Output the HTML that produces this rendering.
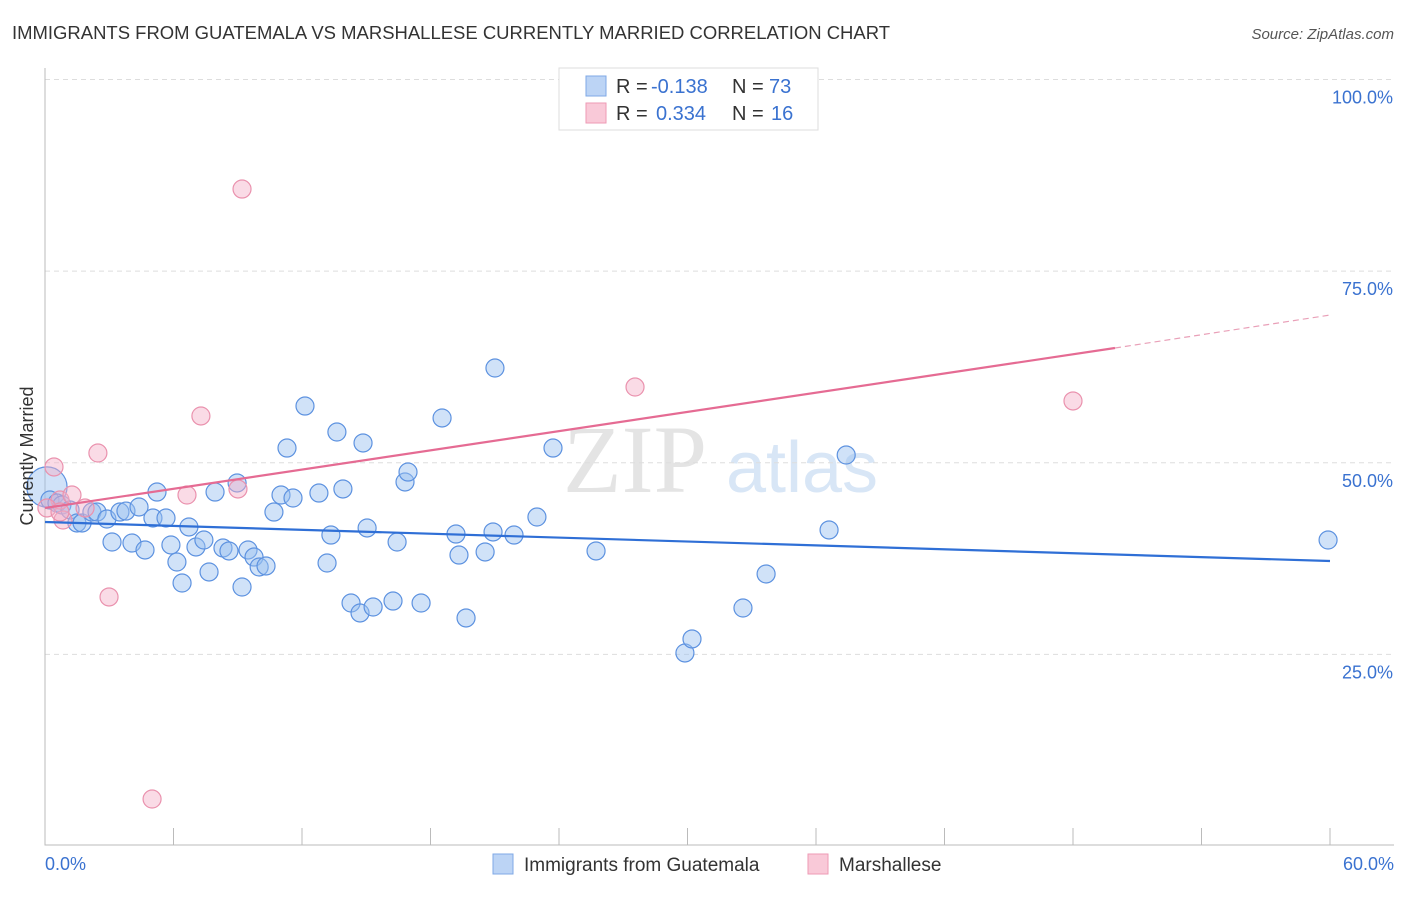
<!DOCTYPE html>
<html><head><meta charset="utf-8"><style>
body{margin:0;background:#fff;font-family:"Liberation Sans",sans-serif}
</style></head><body>
<svg width="1406" height="892" xmlns="http://www.w3.org/2000/svg" id="chart">
<text x="12" y="39" font-size="18" fill="#333" textLength="878" lengthAdjust="spacingAndGlyphs">IMMIGRANTS FROM GUATEMALA VS MARSHALLESE CURRENTLY MARRIED CORRELATION CHART</text>
<text x="1394" y="39" font-size="15" fill="#555" font-style="italic" text-anchor="end">Source: ZipAtlas.com</text>
<text x="635" y="492" font-size="96" font-family="Liberation Serif,serif" fill="#e4e4e4" text-anchor="middle">ZIP</text>
<text x="802" y="492" font-size="72" fill="#d8e6f6" text-anchor="middle">atlas</text>
<g id="grid"></g><g id="axes"></g><g id="marks"></g>
<text transform="translate(33,456) rotate(-90)" font-size="18" fill="#333" text-anchor="middle">Currently Married</text>
<g>
<rect x="559" y="68" width="259" height="62" fill="#fff" stroke="#ddd"/>
<rect x="586" y="76" width="20" height="20" fill="#bcd4f5" stroke="#7fa8e6"/>
<rect x="586" y="103" width="20" height="20" fill="#f9c9d8" stroke="#ee9ab5"/>
<text x="616" y="93" font-size="20" fill="#333">R = <tspan x="651" fill="#3a72d0">-0.138</tspan></text>
<text x="732" y="93" font-size="20" fill="#333">N = <tspan x="769" fill="#3a72d0">73</tspan></text>
<text x="616" y="120" font-size="20" fill="#333">R = <tspan x="656" fill="#3a72d0">0.334</tspan></text>
<text x="732" y="120" font-size="20" fill="#333">N = <tspan x="771" fill="#3a72d0">16</tspan></text>
</g>
<g>
<rect x="493" y="854" width="20" height="20" fill="#bcd4f5" stroke="#7fa8e6"/>
<text x="524" y="871" font-size="19" fill="#333">Immigrants from Guatemala</text>
<rect x="808" y="854" width="20" height="20" fill="#f9c9d8" stroke="#ee9ab5"/>
<text x="839" y="871" font-size="19" fill="#333">Marshallese</text>
</g>
</svg>
<script>
const yTicks=[100,75,50,25];
const yTickLabels=["100.0%","75.0%","50.0%","25.0%"];
const xTicks=[0,6,12,18,24,30,36,42,48,54,60];
const blueX=[0.09,0.23,0.56,0.79,1.17,1.49,1.73,2.19,2.43,2.89,3.13,3.50,3.78,4.06,4.39,4.67,5.04,5.23,5.65,5.88,6.16,6.40,6.72,7.05,7.42,7.66,7.94,8.31,8.59,8.97,9.20,9.48,9.76,10.00,10.32,10.69,11.02,11.30,11.58,12.14,12.79,13.17,13.35,13.63,13.91,14.29,14.71,15.04,15.32,14.85,16.25,16.44,16.81,16.95,17.56,18.54,19.19,19.33,19.66,20.55,20.92,21.01,21.90,22.97,23.72,25.73,29.88,30.21,32.59,33.67,36.61,37.41,59.91];
const blueY=[46.84,45.14,44.75,44.49,43.84,42.14,42.14,43.57,43.57,42.66,39.66,43.57,43.70,39.53,44.23,38.62,42.79,46.18,42.79,39.27,37.05,34.31,41.62,39.01,39.92,35.75,46.18,38.88,38.49,47.36,33.79,38.62,37.70,36.40,36.53,43.57,45.79,51.92,45.40,57.40,46.05,36.92,40.57,54.01,46.58,31.70,30.40,41.49,31.18,52.58,31.96,39.66,47.49,48.79,31.70,55.84,40.70,37.96,29.75,38.36,40.97,62.36,40.57,42.92,51.92,38.49,25.18,27.01,31.05,35.49,41.23,51.01,39.92];
const blueWeight=[5,1,1,1,1,1,1,1,1,1,1,1,1,1,1,1,1,1,1,1,1,1,1,1,1,1,1,1,1,1,1,1,1,1,1,1,1,1,1,1,1,1,1,1,1,1,1,1,1,1,1,1,1,1,1,1,1,1,1,1,1,1,1,1,1,1,1,1,1,1,1,1,1];
const pinkX=[9.20,0.42,0.70,0.84,1.26,2.47,2.99,6.63,7.28,9.01,5.00,27.55,48.00,0.09,1.87,0.70];
const pinkY=[85.71,49.45,45.14,42.53,45.79,51.27,32.49,45.79,56.10,46.58,6.13,59.88,58.06,44.10,44.10,43.57];
const blueTrend=[[0,42.27],[60,37.18]];
const pinkTrend=[[0,44.10],[49.96,64.97]];
const pinkTrendExt=[[49.96,64.97],[60,69.27]];
const NS='http://www.w3.org/2000/svg';
const X=v=>45+v/60*1285;
const Y=v=>846-v/100*766.5;
function mk(tag,attrs,parent){const e=document.createElementNS(NS,tag);for(const k in attrs)e.setAttribute(k,attrs[k]);document.getElementById(parent).appendChild(e);return e;}
yTicks.forEach((t,i)=>{
 const l=mk('line',{x1:45,x2:1394,y1:Y(t),y2:Y(t),stroke:'#ddd','stroke-dasharray':'5,4'},'grid');
 
 
 const tx=mk('text',{x:1393,y:Y(t)+24,'font-size':18,fill:'#3a72d0','text-anchor':'end'},'grid');
 tx.textContent=yTickLabels[i];
 
 
});
const ax=mk('path',{d:'M45,68V845H1394',stroke:'#bbb',fill:'none'},'axes');


xTicks.forEach(t=>{
 const l=mk('line',{x1:X(t),x2:X(t),y1:828,y2:845,stroke:'#bbb'},'axes');
 
 
});
const x0=mk('text',{x:45,y:870,'font-size':18,fill:'#3a72d0'},'axes');x0.textContent='0.0%';


const x1=mk('text',{x:1394,y:870,'font-size':18,fill:'#3a72d0','text-anchor':'end'},'axes');x1.textContent='60.0%';


blueX.forEach((v,i)=>{
 const c=mk('circle',{cx:X(v),cy:Y(blueY[i]),r:9*Math.sqrt(blueWeight[i]),fill:'rgba(150,190,240,0.45)',stroke:'#5d92e0','stroke-width':1.2},'marks');
 
 
});
pinkX.forEach((v,i)=>{
 const c=mk('circle',{cx:X(v),cy:Y(pinkY[i]),r:9,fill:'rgba(245,175,200,0.45)',stroke:'#ea92ae','stroke-width':1.2},'marks');
 
 
});
const bt=mk('line',{x1:X(blueTrend[0][0]),y1:Y(blueTrend[0][1]),x2:X(blueTrend[1][0]),y2:Y(blueTrend[1][1]),stroke:'#2f6fd6','stroke-width':2.2},'marks');


const pt=mk('line',{x1:X(pinkTrend[0][0]),y1:Y(pinkTrend[0][1]),x2:X(pinkTrend[1][0]),y2:Y(pinkTrend[1][1]),stroke:'#e56b93','stroke-width':2.2},'marks');


const pe=mk('line',{x1:X(pinkTrendExt[0][0]),y1:Y(pinkTrendExt[0][1]),x2:X(pinkTrendExt[1][0]),y2:Y(pinkTrendExt[1][1]),stroke:'#e9a0b8','stroke-width':1.2,'stroke-dasharray':'6,4'},'marks');


</script>
</body></html>
